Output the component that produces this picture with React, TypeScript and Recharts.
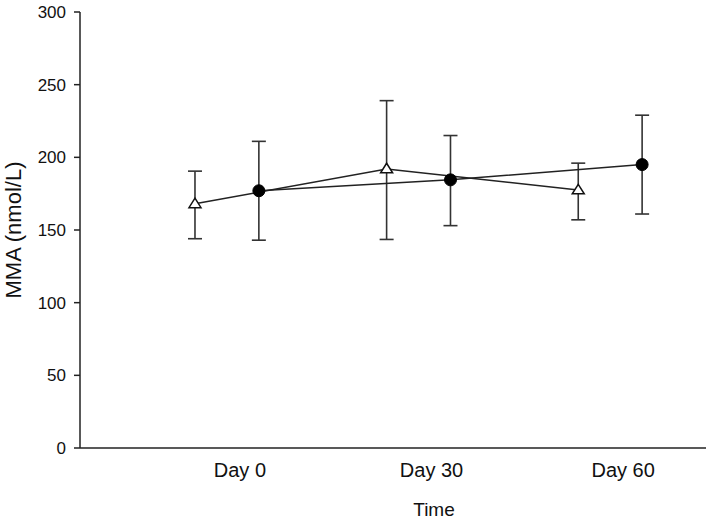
import { LineChart, Line, XAxis, YAxis, ErrorBar, Label } from 'recharts';

const days = [0, 30, 60];
const dayLabels = ['Day 0', 'Day 30', 'Day 60'];
const yTicks = [0, 50, 100, 150, 200, 250, 300];

// open triangles
const triMean = [168, 192, 177.5];
const triUpper = [190.5, 239, 196];
const triLower = [144, 143.5, 157];

// filled circles
const dotMean = [177, 184.5, 195];
const dotUpper = [211, 215, 229];
const dotLower = [143, 153, 161];

const DODGE = 5;
const FONT = '"Liberation Sans", Arial, sans-serif';
const INK = '#222';

const build = (mean: number[], upper: number[], lower: number[], shift: number) =>
  days.map((d, i) => ({
    x: d + shift,
    y: mean[i],
    err: [mean[i] - lower[i], upper[i] - mean[i]],
  }));

const triData = build(triMean, triUpper, triLower, -DODGE);
const dotData = build(dotMean, dotUpper, dotLower, DODGE);

const Triangle = (props: any) => {
  const { cx, cy } = props;
  if (cx == null || cy == null) return null;
  const w = 6;
  const h = 9.5;
  return (
    <path
      d={`M${cx},${cy - h * 0.6} L${cx + w},${cy + h * 0.4} L${cx - w},${cy + h * 0.4} Z`}
      fill="#fff"
      stroke="#111"
      strokeWidth={1.5}
      strokeLinejoin="miter"
    />
  );
};

const DayTick = (props: any) => {
  const { x, y, payload } = props;
  const i = days.indexOf(payload.value);
  return (
    <text x={x + 13} y={y} dy="0.71em" textAnchor="middle" fontSize={20} fontFamily={FONT} fill="#111">
      {dayLabels[i] ?? ''}
    </text>
  );
};

export default function App() {
  return (
    <div style={{ width: 709, height: 523 }}>
      <style>{`body{margin:0}`}</style>
      <LineChart width={709} height={523} margin={{ top: 12, right: 3, left: 0, bottom: 0 }}>
        <XAxis
          type="number"
          dataKey="x"
          domain={[-23, 75]}
          ticks={days}
          tick={<DayTick />}
          tickLine={false}
          tickSize={0}
          tickMargin={15}
          height={75}
          stroke={INK}
          strokeWidth={1.5}
          allowDataOverflow
        >
          <Label
            value="Time"
            position="insideBottom"
            offset={7}
            dx={41}
            style={{ fontSize: 19, fontFamily: FONT, fill: '#111' }}
          />
        </XAxis>
        <YAxis
          type="number"
          domain={[0, 300]}
          ticks={yTicks}
          width={80}
          tickSize={6}
          tickMargin={8}
          stroke={INK}
          strokeWidth={1.5}
          tick={{ fontSize: 17, fontFamily: FONT, fill: '#111' }}
        >
          <Label
            value="MMA (nmol/L)"
            angle={-90}
            position="insideLeft"
            offset={13}
            style={{ fontSize: 22, fontFamily: FONT, fill: '#111', textAnchor: 'middle' }}
          />
        </YAxis>
        <Line
          data={triData}
          dataKey="y"
          stroke={INK}
          strokeWidth={1.5}
          dot={<Triangle />}
          activeDot={false}
          isAnimationActive={false}
        >
          <ErrorBar dataKey="err" direction="y" width={7} stroke="#333" strokeWidth={1.6} />
        </Line>
        <Line
          data={dotData}
          dataKey="y"
          stroke={INK}
          strokeWidth={1.5}
          dot={{ r: 6, fill: '#000', stroke: '#000', strokeWidth: 1 }}
          activeDot={false}
          isAnimationActive={false}
        >
          <ErrorBar dataKey="err" direction="y" width={7} stroke="#333" strokeWidth={1.6} />
        </Line>
      </LineChart>
    </div>
  );
}
